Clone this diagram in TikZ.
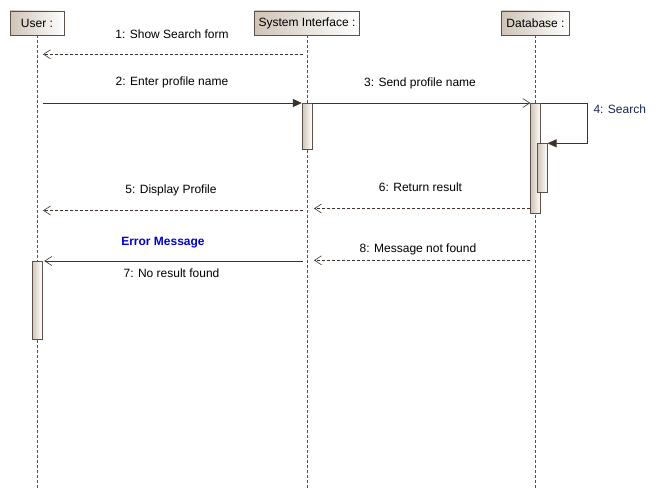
\documentclass[tikz,border=0pt]{standalone}
\usepackage{fontspec}
\setmainfont{Liberation Sans}
\usepackage{tikz}
\usetikzlibrary{arrows.meta}

\definecolor{boxtan}{HTML}{CFC4B7}
\definecolor{boxline}{HTML}{5E5047}
\definecolor{msgline}{HTML}{3E322A}
\definecolor{errblue}{HTML}{0000CC}
\definecolor{selfnavy}{HTML}{1C2450}

\tikzset{
  head/.style={draw=boxline, left color=boxtan, right color=white, minimum height=24pt, inner sep=0pt, font=\fontsize{12}{14}\selectfont},
  act/.style={draw=boxline, left color=boxtan, right color=white, minimum width=10pt, inner sep=0pt, anchor=north},
  life/.style={draw=boxline, dash pattern=on 3pt off 2pt, line width=.7pt},
  call/.style={draw=msgline, line width=.8pt, -{Triangle[length=9pt,width=8pt]}},
  send/.style={draw=msgline, line width=.8pt, -{Straight Barb[length=7pt,width=9pt,line width=.6pt]}},
  ret/.style={draw=msgline, line width=.7pt, dash pattern=on 3pt off 2pt, -{Straight Barb[length=7pt,width=9pt,line width=.6pt]}},
  lbl/.style={font=\fontsize{12}{14}\selectfont}
}

\begin{document}
\begin{tikzpicture}[x=1pt, y=-1pt]
      \useasboundingbox (0,0) rectangle (666,500);
      % lifelines
      \node[head, minimum width=54pt] (user) at (37,23) {User :};
      \node[head, minimum width=105pt] (sys) at (307,23) {System Interface :};
      \node[head, minimum width=68pt] (db) at (535.5,23) {Database :};
      \coordinate (userend) at (37,490);
      \coordinate (sysend) at (307,490);
      \coordinate (dbend) at (535.5,490);
      \draw[life] (user) -- (userend);
      \draw[life] (sys) -- (sysend);
      \draw[life] (db) -- (dbend);
      % activations
      \node[act, minimum height=46pt] (actsys) at (307,103) {};
      \node[act, minimum height=110pt] (actdb) at (535.5,103) {};
      \node[act, minimum height=49pt] (actdbin) at (542.3,143.3) {};
      \node[act, minimum height=78pt] (actuser) at (37,261) {};
      % message ends
      \coordinate (m1a) at (303,54.3);
      \coordinate (m1b) at (43,54.3);
      \coordinate (m2a) at (43,103);
      \coordinate (m4a) at (587,103);
      \coordinate (m4b) at (587,143.3);
      \coordinate (m5a) at (303,210.5);
      \coordinate (m5b) at (43,210.5);
      \coordinate (m6b) at (314,208.5);
      \coordinate (m7a) at (303,261);
      \coordinate (m8b) at (314,260.3);
      % messages
      \draw[ret] (m1a) -- (m1b);
      \draw[call] (m2a) -- (actsys.north west);
      \draw[send] (actsys.north east) -- (actdb.north west);
      \draw[call] (actdb.north east) -- (m4a) -- (m4b) -- (actdbin.north east);
      \draw[ret] (m5a) -- (m5b);
      \draw[ret] (actdb.west |- m6b) -- (m6b);
      \draw[send] (m7a) -- ([xshift=2pt]actuser.north east);
      \draw[ret] (actdb.west |- m8b) -- (m8b);
      % labels
      \node[lbl] (l1) at (172,34) {1: Show Search form};
      \node[lbl] (l2) at (172,82) {2: Enter profile name};
      \node[lbl] (l3) at (420,83) {3: Send profile name};
      \node[lbl, anchor=west, text=selfnavy] (l4) at (590,109.5) {4: Search};
      \node[lbl] (l5) at (171,190) {5: Display Profile};
      \node[lbl] (l6) at (420.5,187.5) {6: Return result};
      \node[lbl, text=errblue, font=\fontsize{12}{14}\selectfont\bfseries] (lerr) at (163,243) {Error Message};
      \node[lbl] (l7) at (171.5,273.5) {7: No result found};
      \node[lbl] (l8) at (418,249.5) {8: Message not found};
    \end{tikzpicture}
\end{document}
